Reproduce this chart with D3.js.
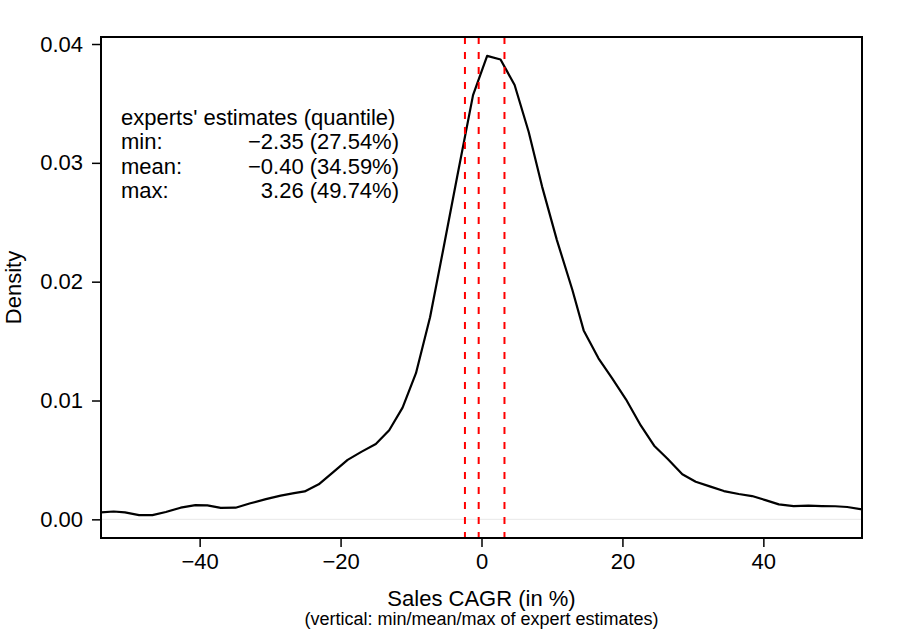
<!DOCTYPE html>
<html>
<head>
<meta charset="utf-8">
<script src="https://cdn.jsdelivr.net/npm/d3@7"></script>
<style>
  html, body { margin: 0; padding: 0; background: #fff; }
  svg text { font-family: "Liberation Sans", Arial, Helvetica, sans-serif; fill: #000; }
</style>
</head>
<body>
<svg id="chart" width="900" height="630"></svg>
<script>
// ---- data ----
const densX = [-54.0, -52.2, -50.6, -48.6, -46.7, -44.8, -42.7, -40.6, -38.9, -37.0,
               -34.9, -32.8, -30.6, -28.5, -26.6, -25.1, -23.1, -21.0, -19.0, -17.0,
               -15.0, -13.1, -11.2, -9.3, -7.3, -5.5, -3.4, -1.2, 0.8, 2.7,
               4.7, 6.7, 8.6, 10.7, 12.9, 14.5, 16.6, 18.5, 20.5, 22.6,
               24.5, 26.4, 28.5, 30.4, 32.5, 34.4, 36.5, 38.4, 40.3, 42.2,
               44.3, 46.4, 48.3, 50.2, 51.9, 54.0];
const densY = [0.00058, 0.00066, 0.00058, 0.00036, 0.00036, 0.00062, 0.00098, 0.00120, 0.00118, 0.00096,
               0.00098, 0.00135, 0.00170, 0.00200, 0.00220, 0.00235, 0.00295, 0.00400, 0.00500, 0.00570,
               0.00634, 0.00750, 0.00940, 0.01230, 0.01700, 0.02250, 0.02900, 0.03570, 0.03900, 0.03870,
               0.03655, 0.03260, 0.02800, 0.02350, 0.01930, 0.01590, 0.01355, 0.01190, 0.01010, 0.00790,
               0.00620, 0.00510, 0.00380, 0.00317, 0.00275, 0.00238, 0.00213, 0.00196, 0.00162, 0.00126,
               0.00112, 0.00115, 0.00112, 0.00110, 0.00104, 0.00084];

const estLabels = ["min:", "mean:", "max:"];
const estValues = [-2.35, -0.40, 3.26];
const estQuantiles = [27.54, 34.59, 49.74];
const legendTitle = "experts' estimates (quantile)";

const xTicks = [-40, -20, 0, 20, 40];
const yTicks = [0.00, 0.01, 0.02, 0.03, 0.04];

const xTitle = "Sales CAGR (in %)";
const xSubtitle = "(vertical: min/mean/max of expert estimates)";
const yTitle = "Density";

// ---- layout ----
const svg = d3.select("#chart");
const L = 101, R = 862, T = 37, B = 538;
const x = d3.scaleLinear().domain([-54, 54]).range([L, R]);
const y = d3.scaleLinear().domain([-0.00157, 0.04059]).range([B, T]);
const fmtMinus = s => s.replace(/-/g, "\u2212");

// clip
svg.append("defs").append("clipPath").attr("id", "clip")
  .append("rect").attr("x", L).attr("y", T).attr("width", R - L).attr("height", B - T);

const plot = svg.append("g").attr("clip-path", "url(#clip)");

// zero reference line
plot.append("line")
  .attr("x1", L).attr("x2", R).attr("y1", y(0)).attr("y2", y(0))
  .attr("stroke", "#e8e8e8").attr("stroke-width", 1);

// density curve
const pts = densX.map((d, i) => [d, densY[i]]);
plot.append("path")
  .datum(pts)
  .attr("fill", "none").attr("stroke", "#000").attr("stroke-width", 2.2)
  .attr("stroke-linejoin", "round")
  .attr("d", d3.line().x(d => x(d[0])).y(d => y(d[1])));

// vertical dashed lines
plot.selectAll("line.est").data(estValues).enter().append("line")
  .attr("class", "est")
  .attr("x1", d => x(d)).attr("x2", d => x(d))
  .attr("y1", T).attr("y2", B)
  .attr("stroke", "#ff0000").attr("stroke-width", 2)
  .attr("stroke-dasharray", "7,8");

// frame
svg.append("rect").attr("x", L).attr("y", T).attr("width", R - L).attr("height", B - T)
  .attr("fill", "none").attr("stroke", "#000").attr("stroke-width", 2);

// x axis
const xAxis = d3.axisBottom(x).tickValues(xTicks).tickSize(9).tickPadding(6)
  .tickFormat(d => fmtMinus(d3.format("d")(d)));
const gx = svg.append("g").attr("transform", `translate(0,${B})`).call(xAxis);
gx.select(".domain").remove();
gx.selectAll(".tick line").attr("stroke", "#000").attr("stroke-width", 1.5);
gx.selectAll(".tick text").attr("font-size", 22).attr("font-family", null);

// y axis
const yAxis = d3.axisLeft(y).tickValues(yTicks).tickSize(9).tickPadding(9)
  .tickFormat(d3.format(".2f"));
const gy = svg.append("g").attr("transform", `translate(${L},0)`).call(yAxis);
gy.select(".domain").remove();
gy.selectAll(".tick line").attr("stroke", "#000").attr("stroke-width", 1.5);
gy.selectAll(".tick text").attr("font-size", 22).attr("font-family", null);

// axis titles
svg.append("text").attr("x", (L + R) / 2).attr("y", 606)
  .attr("text-anchor", "middle").attr("font-size", 22).text(xTitle);
svg.append("text").attr("x", (L + R) / 2).attr("y", 625)
  .attr("text-anchor", "middle").attr("font-size", 18).text(xSubtitle);
svg.append("text")
  .attr("transform", `translate(21,${(T + B) / 2}) rotate(-90)`)
  .attr("text-anchor", "middle").attr("font-size", 22).text(yTitle);

// legend text
const lg = svg.append("g");
lg.append("text").attr("x", 121).attr("y", 124.5).attr("font-size", 22).text(legendTitle);
estLabels.forEach((lab, i) => {
  const yy = 149 + i * 24.7;
  lg.append("text").attr("x", 121).attr("y", yy).attr("font-size", 22).text(lab);
  lg.append("text").attr("x", 399).attr("y", yy).attr("font-size", 22)
    .attr("text-anchor", "end")
    .text(fmtMinus(estValues[i].toFixed(2)) + " (" + estQuantiles[i].toFixed(2) + "%)");
});
</script>
</body>
</html>
